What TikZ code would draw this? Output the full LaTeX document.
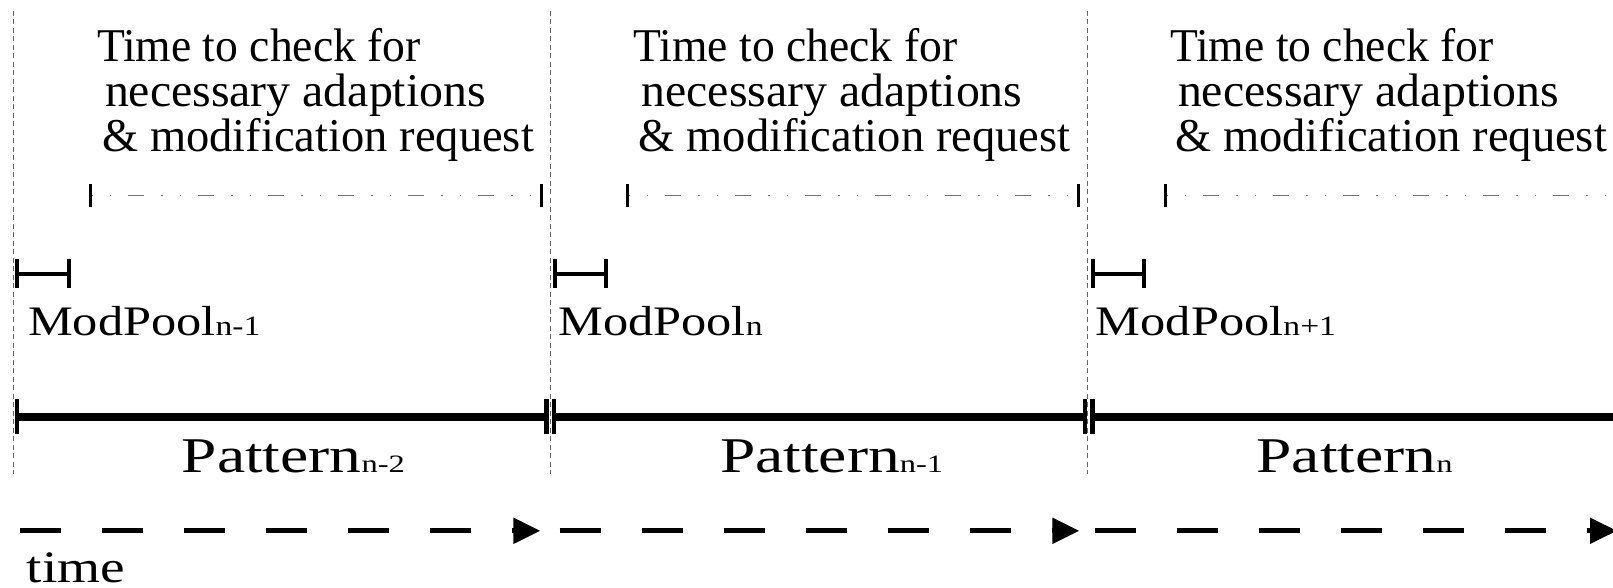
\documentclass[tikz,border=0pt]{standalone}
\usepackage{fontspec}
\setmainfont{Liberation Serif}
\usepackage{graphicx}
\usetikzlibrary{arrows.meta}
\newcommand\wtxt[3]{\scalebox{#1}[1]{\fontsize{#2}{#2}\selectfont #3}}
\tikzset{
  lbl/.style={inner sep=0pt, outer sep=0pt, anchor=base west},
  sepline/.style={line width=1pt, draw=black!60, dash pattern=on 5pt off 3.5pt},
  checkline/.style={line width=1.6pt, draw=black!55, dash pattern=on 16pt off 17pt on 1.5pt off 17pt on 1.5pt off 17pt, dash phase=32pt},
  checktick/.style={line width=3pt, draw=black},
  poolbar/.style={line width=4pt, draw=black},
  pattbar/.style={line width=8.5pt, draw=black},
  patttick/.style={line width=4.6pt, draw=black},
  timearrow/.style={line width=5pt, draw=black, dash pattern=on 41pt off 41pt, -{Triangle[length=27pt,width=25pt]}},
}
\begin{document}
\begin{tikzpicture}[x=1pt,y=-1pt]
\useasboundingbox (0,0) rectangle (1613,588);
\clip (0,0) rectangle (1613,588);
% separators
\foreach \i/\x in {0/13,1/550,2/1087.5}{
  \coordinate (s\i t) at (\x,11);
  \coordinate (s\i b) at (\x,474);
  \draw[sepline] (s\i t) -- (s\i b);
}
% check intervals
\foreach \i/\a/\b in {0/90/541,1/627/1078,2/1165/1630}{
  \coordinate (c\i a) at (\a,195.5);
  \coordinate (c\i b) at (\b,195.5);
  \draw[checkline] (c\i a) -- (c\i b);
  \draw[checktick] ([yshift=-11.5pt]c\i a) -- ([yshift=11.5pt]c\i a);
  \draw[checktick] ([yshift=-11.5pt]c\i b) -- ([yshift=11.5pt]c\i b);
}
% check texts
\foreach \i/\x in {0/97,1/633.5,2/1170}{
  \node[lbl] (ta\i) at (\x,62) {\wtxt{0.97}{47}{Time to check for}};
  \node[lbl] (tb\i) at (\x+8,106.7) {\wtxt{1.017}{47}{necessary adaptions}};
  \node[lbl] (tc\i) at (\x+5.3,151.7) {\wtxt{0.99}{47}{\& modification request}};
}
% ModPool intervals
\foreach \i/\a/\b in {0/17.3/69,1/555/606,2/1092.7/1143.8}{
  \coordinate (m\i a) at (\a,273.5);
  \coordinate (m\i b) at (\b,273.5);
  \draw[poolbar] (m\i a) -- (m\i b);
  \draw[poolbar] ([yshift=-14.5pt]m\i a) -- ([yshift=14.5pt]m\i a);
  \draw[poolbar] ([yshift=-14.5pt]m\i b) -- ([yshift=14.5pt]m\i b);
}
\node[lbl] (mp0) at (28,335) {\wtxt{1.2}{42}{ModPool}\wtxt{1.2}{28}{n-1}};
\node[lbl] (mp1) at (558.3,335) {\wtxt{1.2}{42}{ModPool}\wtxt{1.2}{28}{n}};
\node[lbl] (mp2) at (1095.8,335) {\wtxt{1.2}{42}{ModPool}\wtxt{1.2}{28}{n+1}};
% Pattern intervals
\foreach \i/\a/\b in {0/16.8/546.5,1/554.1/1085,2/1092.5/1630}{
  \coordinate (p\i a) at (\a,417);
  \coordinate (p\i b) at (\b,417);
  \draw[pattbar] (p\i a) -- (p\i b);
  \draw[patttick] ([yshift=-16.5pt]p\i a) -- ([yshift=18.5pt]p\i a);
  \draw[patttick] ([yshift=-16.5pt]p\i b) -- ([yshift=18.5pt]p\i b);
}
\node[lbl] (pt0) at (181.7,472.5) {\wtxt{1.27}{50}{Pattern}\wtxt{1.3}{25}{n-2}};
\node[lbl] (pt1) at (720,472.5) {\wtxt{1.27}{50}{Pattern}\wtxt{1.3}{25}{n-1}};
\node[lbl] (pt2) at (1256.5,472.5) {\wtxt{1.27}{50}{Pattern}\wtxt{1.3}{25}{n}};
% time arrows
\foreach \i/\a/\b in {0/20/540.4,1/559.5/1079.4,2/1095/1617}{
  \coordinate (a\i a) at (\a,530.8);
  \coordinate (a\i b) at (\b,530.8);
  \draw[timearrow] (a\i a) -- (a\i b);
}
\node[lbl] (time) at (26.7,582) {\wtxt{1.23}{45}{time}};
\end{tikzpicture}
\end{document}
